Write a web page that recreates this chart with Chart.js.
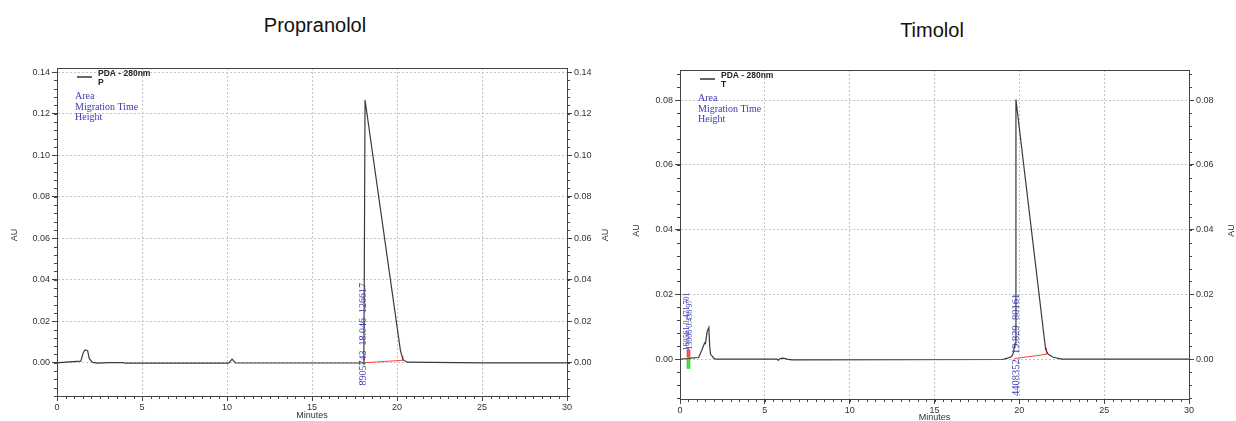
<!DOCTYPE html>
<html>
<head>
<meta charset="utf-8">
<script src="https://cdn.jsdelivr.net/npm/chart.js@4/dist/chart.umd.min.js"></script>
<style>
  body { margin: 0; background: #fff; width: 1236px; height: 421px; overflow: hidden; position: relative; font-family: "Liberation Sans", Arial, sans-serif; }
  .title { position: absolute; font-size: 20px; color: #111; transform: translateX(-50%); }
  .box { position: absolute; }
</style>
</head>
<body>
<div class="title" style="left:315px; top:14px;">Propranolol</div>
<div class="title" style="left:932px; top:19px;">Timolol</div>
<div class="box" style="left:0px; top:40px; width:620px; height:381px;"><canvas id="left"></canvas></div>
<div class="box" style="left:618px; top:40px; width:618px; height:381px;"><canvas id="right"></canvas></div>
<script>
// trace points, minutes -> AU
const propMinutes = [0, 0.5, 1.4, 1.55, 1.65, 1.8, 1.9, 2.1, 2.4, 3, 3.9, 4.0, 10.1, 10.3, 10.5, 17.9, 18.05, 18.08, 18.12, 20.2, 20.35, 20.6, 25, 30];
const propAU = [0, 0.0003, 0.0008, 0.005, 0.0062, 0.0058, 0.002, 0.0002, -0.0002, 0.0001, 0.0001, -0.0002, -0.0002, 0.0018, 0, -0.0001, 0, 0.05, 0.1266, 0.006, 0.0015, 0.0003, 0, 0];
const timoMinutes = [0, 0.5, 0.6, 1.1, 1.3, 1.45, 1.5, 1.6, 1.7, 1.75, 1.8, 2.0, 2.1, 5.7, 5.8, 5.9, 6.1, 6.3, 6.6, 19.0, 19.3, 19.55, 19.65, 19.75, 19.8, 21.55, 21.7, 22.0, 22.5, 30];
const timoAU = [0, 0.0002, 0.0003, 0.0005, 0.003, 0.005, 0.0048, 0.0085, 0.0098, 0.004, 0.0015, 0.0003, 0, 0, -0.0003, 0.0002, 0.0003, 0, -0.0002, -0.0001, 0.0003, 0.0008, 0.002, 0.005, 0.0802, 0.003, 0.0015, 0.0006, 0, 0];

// integration baselines (red) and markers
const propBaseMin = [18.05, 20.35, 20.35];
const propBaseAU = [0, 0.0012, 0.0032];
const timoBaseMin = [19.7, 21.6, 21.6];
const timoBaseAU = [0.0002, 0.0015, 0.0035];
const timoRedTicks = [[0.45, 0.0005, 0.003], [0.55, 0.0005, 0.003]];
const timoGreenTicks = [[0.45, -0.003, 0.0004], [0.55, -0.003, 0.0004]];
const propGreenTicks = [[18.05, -0.0012, 0]];

// peak labels: minutes, AU where the text starts, text
const propLabels = [[18.046, -0.011, '8905743  18.046  126617']];
const timoLabels = [[19.829, -0.0114, '4408352  19.829  80161'], [0.42, 0.0027, '160561 0.471 701'], [0.56, 0.0029, '13006 0.438 97']];

const legendLines = ['Area', 'Migration Time', 'Height'];
const xTicks = [0, 5, 10, 15, 20, 25, 30];

const pts = (xs, ys) => xs.map((x, i) => ({ x: x, y: ys[i] }));
const tickSegs = (list, color) => list.map(t => ({
  data: [{ x: t[0], y: t[1] }, { x: t[0], y: t[2] }],
  borderColor: color, borderWidth: 2, pointRadius: 0
}));

const decorPlugin = {
  id: 'decor',
  afterDraw(chart, args, opts) {
    const ctx = chart.ctx;
    const a = chart.chartArea;
    const xs = chart.scales.x, ys = chart.scales.y;
    ctx.save();
    // frame
    ctx.strokeStyle = '#444';
    ctx.lineWidth = 1;
    ctx.strokeRect(a.left + 0.5, a.top + 0.5, a.right - a.left, a.bottom - a.top);
    // minor ticks
    ctx.beginPath();
    for (let v = 0; v <= 30.001; v += 0.5) {
      const px = Math.round(xs.getPixelForValue(v)) + 0.5;
      ctx.moveTo(px, a.bottom); ctx.lineTo(px, a.bottom + 3);
    }
    for (let v = -0.02; v <= ys.max; v += opts.yMinor) {
      if (v < ys.min) continue;
      const py = Math.round(ys.getPixelForValue(v)) + 0.5;
      ctx.moveTo(a.left - 3, py); ctx.lineTo(a.left, py);
      ctx.moveTo(a.right, py); ctx.lineTo(a.right + 3, py);
    }
    ctx.stroke();
    // AU titles on both sides, same reading direction
    ctx.fillStyle = '#333';
    ctx.font = '9px "Liberation Sans", Arial, sans-serif';
    ctx.textAlign = 'center';
    ctx.textBaseline = 'middle';
    const midY = (a.top + a.bottom) / 2 + opts.auDy;
    [opts.auLeft, opts.auRight].forEach(x => {
      ctx.save();
      ctx.translate(x, midY);
      ctx.rotate(-Math.PI / 2);
      ctx.fillText('AU', 0, 0);
      ctx.restore();
    });
    // peak labels
    ctx.fillStyle = '#3b3bb0';
    ctx.textAlign = 'left';
    opts.labels.forEach((l, i) => {
      ctx.font = i === 0 ? opts.labelFont : '8px "Liberation Serif", "Times New Roman", serif';
      ctx.save();
      ctx.translate(xs.getPixelForValue(l[0]), ys.getPixelForValue(l[1]));
      ctx.rotate(-Math.PI / 2);
      ctx.fillText(l[2], 0, 0);
      ctx.restore();
    });
    // legend box
    const lx = a.left + opts.legendDx, ly = a.top + opts.legendDy;
    ctx.strokeStyle = '#666';
    ctx.lineWidth = 2;
    ctx.beginPath();
    ctx.moveTo(lx + 2, ly + 9); ctx.lineTo(lx + 17, ly + 9);
    ctx.stroke();
    ctx.fillStyle = '#222';
    ctx.font = 'bold 8.5px "Liberation Sans", Arial, sans-serif';
    ctx.textBaseline = 'alphabetic';
    ctx.fillText('PDA - 280nm', lx + 23, ly + 8);
    ctx.fillText(opts.sample, lx + 23, ly + 17);
    ctx.fillStyle = '#3b3bb0';
    ctx.font = '10px "Liberation Serif", "Times New Roman", serif';
    legendLines.forEach((t, i) => {
      ctx.fillText(t, lx, ly + 31 + i * opts.legendStep);
    });
    ctx.restore();
  }
};

const makeChart = (id, trace, base, ticks, o) => {
  const axisFont = { family: '"Liberation Sans", Arial, sans-serif', size: 9 };
  const yTicks = [];
  for (let v = 0; v <= o.yMax + 1e-9; v += o.yStep) yTicks.push(+v.toFixed(3));
  const yAxis = (pos, grid) => ({
    type: 'linear', position: pos, min: o.yMin, max: o.yMax,
    afterBuildTicks: s => { s.ticks = yTicks.map(v => ({ value: v })); },
    afterFit: s => { s.width = pos === 'left' ? o.leftW : o.rightW; },
    ticks: { color: '#333', font: axisFont, padding: 2, callback: v => v.toFixed(2) },
    grid: { display: true, drawOnChartArea: grid, color: '#c4c4c4', tickColor: '#444', tickLength: 5 },
    border: { display: true, color: '#444', dash: [2, 2] },
    title: { display: false }
  });
  return new Chart(document.getElementById(id), {
    type: 'line',
    data: {
      datasets: [
        { data: trace, borderColor: '#3a3a3a', borderWidth: 1.2, pointRadius: 0, tension: 0 },
        { data: base, borderColor: '#ff4040', borderWidth: 1, pointRadius: 0 },
        ...tickSegs(ticks.red, '#ff4040'),
        ...tickSegs(ticks.green, '#33dd33')
      ]
    },
    plugins: [decorPlugin],
    options: {
      responsive: true, maintainAspectRatio: false, animation: false,
      layout: { padding: { top: o.padTop, left: 0, right: 0, bottom: 0 } },
      plugins: {
        legend: { display: false }, tooltip: { enabled: false },
        decor: { labels: o.labels, labelFont: o.labelFont, sample: o.sample, legendDx: o.legendDx, legendDy: o.legendDy,
                 legendStep: o.legendStep, yMinor: o.yMinor, auLeft: o.auLeft, auRight: o.auRight, auDy: o.auDy }
      },
      scales: {
        x: {
          type: 'linear', min: 0, max: 30,
          afterBuildTicks: s => { s.ticks = xTicks.map(v => ({ value: v })); },
          afterFit: s => { s.height = o.bottomH; },
          ticks: { color: '#333', font: axisFont, padding: 1, maxRotation: 0 },
          grid: { color: '#c4c4c4', tickColor: '#444', tickLength: 5 },
          border: { display: true, color: '#444', dash: [2, 2] },
          title: { display: true, text: 'Minutes', color: '#333', font: axisFont, padding: { top: 0, bottom: o.minPad } }
        },
        y: yAxis('left', true),
        y2: yAxis('right', false)
      }
    }
  });
};

makeChart('left', pts(propMinutes, propAU), pts(propBaseMin, propBaseAU),
  { red: [], green: propGreenTicks },
  { yMin: -0.016, yMax: 0.142, yStep: 0.02, yMinor: 0.004, leftW: 57, rightW: 53, padTop: 28, bottomH: 25, minPad: 0,
    labels: propLabels, labelFont: '10px "Liberation Serif", "Times New Roman", serif', sample: 'P',
    legendDx: 18, legendDy: 0, legendStep: 10.5, auLeft: 15, auRight: 606, auDy: 3 });

makeChart('right', pts(timoMinutes, timoAU), pts(timoBaseMin, timoBaseAU),
  { red: timoRedTicks, green: timoGreenTicks },
  { yMin: -0.0123, yMax: 0.0893, yStep: 0.02, yMinor: 0.004, leftW: 62, rightW: 47, padTop: 30, bottomH: 22, minPad: -2,
    labels: timoLabels, labelFont: '10.5px "Liberation Serif", "Times New Roman", serif', sample: 'T',
    legendDx: 18, legendDy: 0, legendStep: 10.5, auLeft: 19, auRight: 614, auDy: -4 });
</script>
</body>
</html>
